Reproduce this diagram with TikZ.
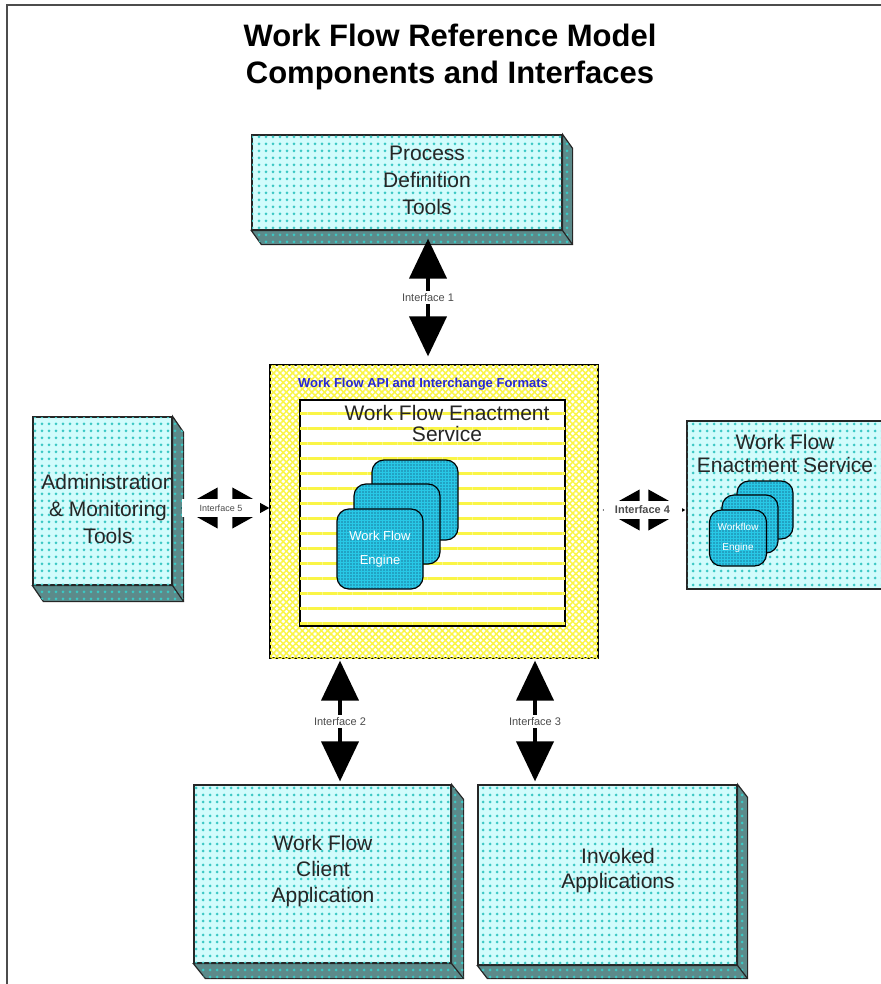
\documentclass[tikz,border=0pt]{standalone}
\usepackage{fontspec}
\setmainfont{Liberation Sans}
\usepackage{xcolor}
\definecolor{Col1}{RGB}{210,252,252}
\definecolor{Col2}{RGB}{60,200,196}
\definecolor{Col3}{RGB}{92,138,138}
\definecolor{Col4}{RGB}{250,245,70}
\definecolor{Col5}{RGB}{40,200,230}
\definecolor{Col6}{RGB}{15,40,80}
\definecolor{Col7}{RGB}{40,40,210}
\usepackage{tikz}
\usetikzlibrary{arrows.meta}
\usetikzlibrary{patterns.meta}
\tikzstyle{Frame}=[draw=black!70,line width=2pt]
\tikzstyle{Title}=[align=center,font=\bfseries\fontsize{31}{37}\selectfont]
\tikzstyle{Box}=[draw=black!85,line width=1.2pt,fill=Col1,inner sep=0pt,
postaction={pattern={Dots[distance=7pt,radius=1.5pt]},pattern color=Col2}]
\tikzstyle{Side}=[draw=black!85,line width=1.2pt,fill=Col3,
postaction={pattern={Dots[distance=7pt,radius=1.5pt]},pattern color=Col2}]
\tikzstyle{BoxText}=[align=center,text=black!85,font=\fontsize{21}{27}\selectfont]
\tikzstyle{Api}=[draw=black,line width=1.2pt,fill=white,inner sep=0pt,
postaction={pattern={Hatch[angle=45,distance=4.5pt,line width=1.5pt]},pattern color=Col4}]
\tikzstyle{Stripe}=[draw=black,line width=1.2pt,fill=white,inner sep=0pt,
postaction={pattern={Lines[angle=0,distance=15pt,line width=3pt]},pattern color=Col4}]
\tikzstyle{Engine}=[draw=black,line width=1.2pt,rounded corners=12pt,fill=Col5,
inner sep=0pt,align=center,text=white,
postaction={pattern={Dots[distance=3pt,radius=0.7pt]},pattern color=Col6}]
\tikzstyle{Arrow}=[line width=4pt,<->,>={Triangle[width=37pt,length=40pt]}]
\tikzstyle{ArrowH}=[line width=4pt,<->,>={Triangle[width=40pt,length=37pt]}]
\tikzstyle{IfLabel}=[fill=white,text=black!70,inner sep=2pt,
font=\fontsize{11}{12}\selectfont]
\newcommand{\BoxDepth}[3]{%
  \path[Side](#1.north east)--++(#2,#3)--([shift={(#2,#3)}]#1.south east)
    --([shift={(#2,#3)}]#1.south west)--(#1.south west)--(#1.south east)--cycle;
  \draw[draw=black!85,line width=1.2pt](#1.south east)--++(#2,#3);}

\begin{document}
\begin{tikzpicture}[x=1pt,y=-1pt]
    \useasboundingbox (0,0) rectangle (880,984);
    \draw[Frame](7,995)--(7,5)--(895,5);
    \node[Title](title)at(450,56.5){Work Flow Reference Model\\Components and Interfaces};
    \node[Box,minimum width=310pt,minimum height=95pt](pdt)at(407,182.5){};
    \BoxDepth{pdt}{10}{14}
    \node[BoxText](pdtT)at(427,180){Process\\Definition\\Tools};
    \node[Box,minimum width=139pt,minimum height=168pt](adm)at(102.5,501){};
    \BoxDepth{adm}{11}{16}
    \node[BoxText](admT)at(108,509){Administration\\\& Monitoring\\Tools};
    \node[Box,minimum width=257pt,minimum height=178pt](cl)at(322.5,874){};
    \BoxDepth{cl}{12}{15}
    \node[BoxText,font=\fontsize{21}{26}\selectfont](clT)at(323,871)
        {Work Flow\\Client\\Application};
    \node[Box,minimum width=259pt,minimum height=180pt](inv)at(607.5,875){};
    \BoxDepth{inv}{10}{13}
    \node[BoxText,font=\fontsize{21}{25}\selectfont](invT)at(618,870.5)
        {Invoked\\Applications};
    \node[Box,minimum width=213pt,minimum height=168pt](rws)at(793.5,505){};
    \node[BoxText,font=\fontsize{21}{23}\selectfont](rwsT)at(785,453.5)
        {Work Flow\\Enactment Service};
    \node[Engine,minimum width=56pt,minimum height=58pt](re1)at(765,510){};
    \node[Engine,minimum width=56pt,minimum height=58pt](re2)at(750,524){};
    \node[Engine,minimum width=57pt,minimum height=56pt,
        font=\fontsize{10}{20}\selectfont](re3)at(738,538){Workflow\\Engine};
    \node[Api,minimum width=328pt,minimum height=293pt](api)at(434,511.5){};
    \node[text=Col7,font=\bfseries\fontsize{13}{15}\selectfont](apiT)at(423,384)
        {Work Flow API and Interchange Formats};
    \node[Stripe,minimum width=265pt,minimum height=226pt](wes)at(432.5,513){};
    \node[BoxText,font=\fontsize{21}{21}\selectfont](wesT)at(447,423.5)
        {Work Flow Enactment\\Service};
    \node[Engine,minimum width=86pt,minimum height=80pt](e1)at(415,500){};
    \node[Engine,minimum width=86pt,minimum height=80pt](e2)at(397,524){};
    \node[Engine,minimum width=86pt,minimum height=80pt,
        font=\fontsize{13}{24}\selectfont](e3)at(380,549){Work Flow\\Engine};
    \draw[Arrow,shorten <=8pt,shorten >=8pt]([xshift=21pt]pdt.south)--
        node[IfLabel](if1){Interface 1}([xshift=-6pt]api.north);
    \draw[Arrow,shorten <=2pt,shorten >=3pt]([xshift=-94pt]api.south)--
        node[IfLabel](if2){Interface 2}([xshift=17.5pt]cl.north);
    \draw[Arrow,shorten <=2pt,shorten >=3pt]([xshift=101pt]api.south)--
        node[IfLabel](if3){Interface 3}([xshift=-72.5pt]inv.north);
    \draw[ArrowH,shorten <=8pt]([yshift=-7pt]adm.east)--
        node[IfLabel,minimum width=78pt,minimum height=18pt,
        font=\fontsize{9}{10}\selectfont](if5){Interface 5}([yshift=3.5pt]api.west);
    \draw[ArrowH,shorten <=4pt,shorten >=1pt]([yshift=1.5pt]api.east)--
        node[IfLabel,minimum width=78pt,minimum height=18pt,
        font=\bfseries\fontsize{11}{12}\selectfont](if4){Interface 4}([yshift=-5pt]rws.west);
\end{tikzpicture}
\end{document}
